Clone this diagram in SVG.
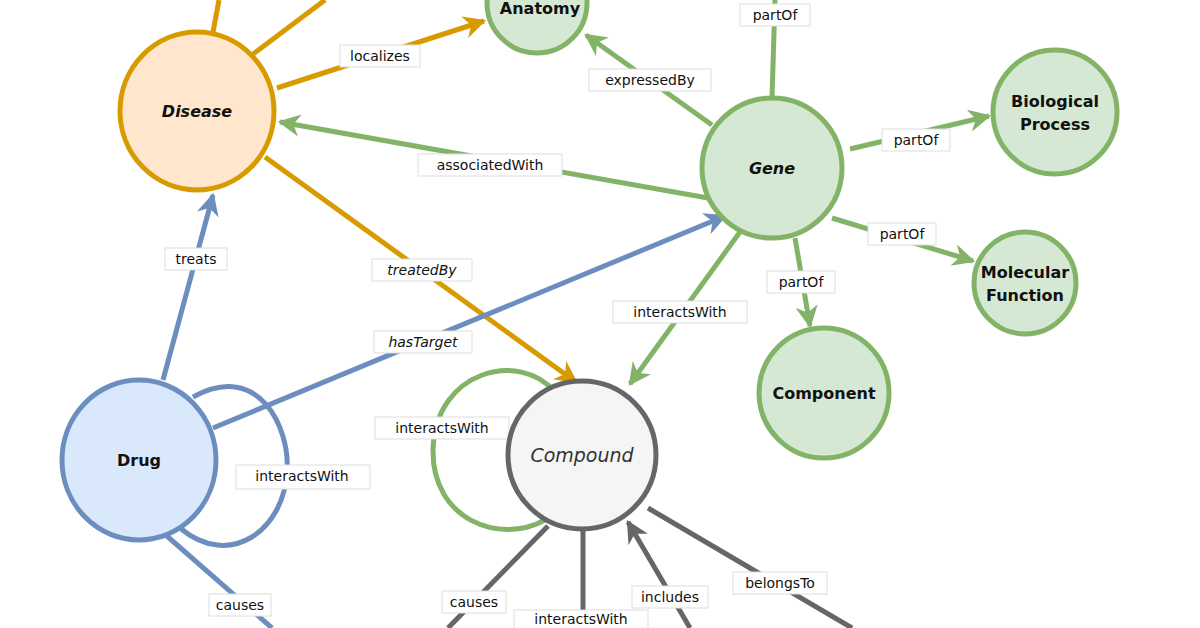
<svg xmlns="http://www.w3.org/2000/svg" width="1200" height="628" viewBox="0 0 1200 628">
<defs>
<marker id="ao" viewBox="0 0 10 10" refX="9" refY="5" markerWidth="4.5" markerHeight="4.5" orient="auto-start-reverse" markerUnits="strokeWidth"><path d="M0,0 L10,5 L0,10 L3,5 z" fill="#d79b00"/></marker>
<marker id="ag" viewBox="0 0 10 10" refX="9" refY="5" markerWidth="4.5" markerHeight="4.5" orient="auto" markerUnits="strokeWidth"><path d="M0,0 L10,5 L0,10 L3,5 z" fill="#82b366"/></marker>
<marker id="ab" viewBox="0 0 10 10" refX="9" refY="5" markerWidth="4.5" markerHeight="4.5" orient="auto" markerUnits="strokeWidth"><path d="M0,0 L10,5 L0,10 L3,5 z" fill="#6c8ebf"/></marker>
<marker id="ak" viewBox="0 0 10 10" refX="9" refY="5" markerWidth="4.5" markerHeight="4.5" orient="auto" markerUnits="strokeWidth"><path d="M0,0 L10,5 L0,10 L3,5 z" fill="#666666"/></marker>
</defs>
<style>
.e{fill:none;stroke-width:5}
.o{stroke:#d79b00}.g{stroke:#82b366}.b{stroke:#6c8ebf}.k{stroke:#666666}
.n{stroke-width:5}
.t{font-family:"DejaVu Sans",sans-serif;font-size:16px;font-weight:bold;fill:#111;text-anchor:middle;dominant-baseline:central}
.l{font-family:"DejaVu Sans",sans-serif;font-size:14px;fill:#111;text-anchor:middle;dominant-baseline:central}
.lb{fill:#fff;stroke:#ddd;stroke-width:1}
</style>
<rect width="1200" height="628" fill="#fff"/>
<g id="connectors">
<line class="e o" x1="213" y1="32" x2="219" y2="0"/>
<line class="e o" x1="252" y1="55" x2="325" y2="0"/>
<line class="e o" x1="277" y1="88" x2="484" y2="21" marker-end="url(#ao)"/>
<line class="e g" x1="708" y1="198" x2="280" y2="122" marker-end="url(#ag)"/>
<line class="e o" x1="265" y1="157" x2="576" y2="382" marker-end="url(#ao)"/>
<line class="e b" x1="163" y1="380" x2="213" y2="195" marker-end="url(#ab)"/>
<line class="e b" x1="213" y1="428" x2="725" y2="216" marker-end="url(#ab)"/>
<path class="e b" d="M193,397 C260,360 290,430 287,470 C285,530 230,570 180,528"/>
<line class="e b" x1="160" y1="530" x2="272" y2="628"/>
<line class="e g" x1="712" y1="125" x2="586" y2="35" marker-end="url(#ag)"/>
<line class="e g" x1="772" y1="98" x2="775" y2="0"/>
<line class="e g" x1="850" y1="149" x2="989" y2="116" marker-end="url(#ag)"/>
<line class="e g" x1="832" y1="218" x2="973" y2="261" marker-end="url(#ag)"/>
<line class="e g" x1="795" y1="238" x2="810" y2="326" marker-end="url(#ag)"/>
<line class="e g" x1="745" y1="225" x2="630" y2="384" marker-end="url(#ag)"/>
<path class="e g" d="M555,392 C520,350 435,370 433,450 C432,520 500,545 545,520"/>
<line class="e k" x1="548" y1="526" x2="448" y2="628"/>
<line class="e k" x1="583" y1="530" x2="583" y2="628"/>
<line class="e k" x1="690" y1="628" x2="628" y2="522" marker-end="url(#ak)"/>
<line class="e k" x1="648" y1="508" x2="852" y2="628"/>
</g>
<g id="labels">
<rect class="lb" x="340" y="45" width="80" height="22"/><text class="l" x="380" y="56">localizes</text>
<rect class="lb" x="418" y="154" width="144" height="22"/><text class="l" x="490" y="165">associatedWith</text>
<rect class="lb" x="372" y="259" width="100" height="22"/><text class="l" x="422" y="270" font-style="italic">treatedBy</text>
<rect class="lb" x="165" y="248" width="62" height="22"/><text class="l" x="196" y="259">treats</text>
<rect class="lb" x="374" y="331" width="98" height="22"/><text class="l" x="423" y="342" font-style="italic">hasTarget</text>
<rect class="lb" x="236" y="465" width="134" height="24"/><text class="l" x="302" y="476">interactsWith</text>
<rect class="lb" x="209" y="594" width="62" height="22"/><text class="l" x="240" y="605">causes</text>
<rect class="lb" x="589" y="69" width="122" height="22"/><text class="l" x="650" y="80">expressedBy</text>
<rect class="lb" x="740" y="4" width="70" height="22"/><text class="l" x="775" y="15">partOf</text>
<rect class="lb" x="882" y="129" width="68" height="22"/><text class="l" x="916" y="140">partOf</text>
<rect class="lb" x="868" y="223" width="68" height="22"/><text class="l" x="902" y="234">partOf</text>
<rect class="lb" x="767" y="271" width="68" height="22"/><text class="l" x="801" y="282">partOf</text>
<rect class="lb" x="613" y="301" width="134" height="22"/><text class="l" x="680" y="312">interactsWith</text>
<rect class="lb" x="375" y="417" width="134" height="22"/><text class="l" x="442" y="428">interactsWith</text>
<rect class="lb" x="442" y="591" width="64" height="22"/><text class="l" x="474" y="602">causes</text>
<rect class="lb" x="514" y="610" width="134" height="22"/><text class="l" x="581" y="619">interactsWith</text>
<rect class="lb" x="632" y="586" width="76" height="22"/><text class="l" x="670" y="597">includes</text>
<rect class="lb" x="733" y="572" width="94" height="22"/><text class="l" x="780" y="583">belongsTo</text>
</g>
<g id="disease"><ellipse class="n" cx="197" cy="111" rx="77" ry="79" fill="#ffe6cc" stroke="#d79b00"/><text class="t" x="197" y="111" font-style="italic" font-size="19">Disease</text></g>
<g id="anatomy"><circle class="n" cx="537" cy="3" r="50" fill="#d5e8d4" stroke="#82b366"/><text class="t" x="540" y="8" font-size="15">Anatomy</text></g>
<g id="gene"><circle class="n" cx="772" cy="168" r="70" fill="#d5e8d4" stroke="#82b366"/><text class="t" x="772" y="168" font-style="italic" font-size="19">Gene</text></g>
<g id="bp"><circle class="n" cx="1055" cy="112" r="62" fill="#d5e8d4" stroke="#82b366"/><text class="t" x="1055" y="101" font-size="15">Biological</text><text class="t" x="1055" y="124" font-size="15">Process</text></g>
<g id="mf"><circle class="n" cx="1025" cy="283" r="51" fill="#d5e8d4" stroke="#82b366"/><text class="t" x="1025" y="272" font-size="15">Molecular</text><text class="t" x="1025" y="295" font-size="15">Function</text></g>
<g id="component"><circle class="n" cx="824" cy="393" r="65" fill="#d5e8d4" stroke="#82b366"/><text class="t" x="824" y="393" font-size="15">Component</text></g>
<g id="compound"><circle class="n" cx="582" cy="455" r="74" fill="#f5f5f5" stroke="#666666"/><text class="t" x="582" y="455" style="font-style:italic;font-weight:normal;font-size:19px;fill:#333">Compound</text></g>
<g id="drug"><ellipse class="n" cx="139" cy="460" rx="77" ry="80" fill="#dae8fc" stroke="#6c8ebf"/><text class="t" x="139" y="460" font-size="19">Drug</text></g>
</svg>
